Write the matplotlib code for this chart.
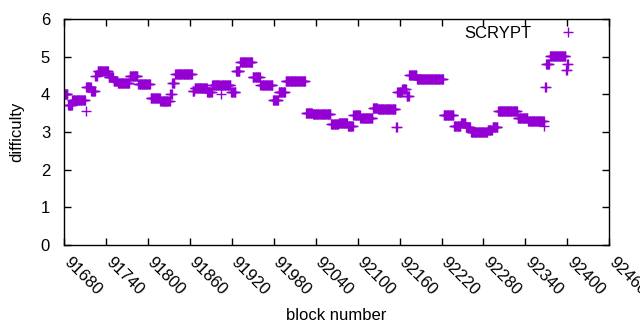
import matplotlib
matplotlib.use("Agg")
import matplotlib.pyplot as plt
import matplotlib.transforms as mtransforms
import numpy as np

plt.rcParams['font.family'] = ['Liberation Sans', 'DejaVu Sans']

# difficulty runs: first block, last block, difficulty
run_start = [91680, 91686, 91692, 91711, 91712, 91719, 91725, 91728, 91744, 91751,
             91757, 91774, 91786, 91804, 91818, 91832, 91835, 91839, 91864, 91867,
             91885, 91892, 91904, 91905, 91919, 91926, 91932, 91950, 91961, 91979,
             91987, 91997, 92026, 92036, 92062, 92073, 92086, 92094, 92104, 92122,
             92129, 92155, 92157, 92164, 92170, 92174, 92185, 92223, 92238, 92248,
             92255, 92262, 92286, 92293, 92301, 92329, 92344, 92367, 92368, 92370,
             92375, 92398, 92400]
run_end = [91685, 91691, 91710, 91711, 91718, 91724, 91727, 91743, 91750, 91756,
           91773, 91785, 91803, 91817, 91831, 91834, 91838, 91863, 91866, 91884,
           91891, 91903, 91904, 91918, 91925, 91931, 91949, 91960, 91978, 91986,
           91996, 92025, 92035, 92061, 92072, 92085, 92093, 92103, 92121, 92128,
           92154, 92156, 92163, 92169, 92173, 92184, 92222, 92237, 92247, 92254,
           92261, 92285, 92292, 92300, 92328, 92343, 92366, 92367, 92369, 92374,
           92397, 92399, 92401]
run_diff = [4.00, 3.72, 3.85, 3.56, 4.20, 4.10, 4.50, 4.62, 4.45, 4.35,
            4.30, 4.50, 4.28, 3.90, 3.82, 4.00, 4.30, 4.54, 4.08, 4.17,
            4.05, 4.25, 4.00, 4.25, 4.05, 4.63, 4.86, 4.45, 4.26, 3.86,
            4.05, 4.36, 3.50, 3.47, 3.22, 3.25, 3.15, 3.45, 3.36, 3.65,
            3.62, 3.13, 4.05, 4.13, 3.95, 4.52, 4.40, 3.45, 3.15, 3.25,
            3.12, 3.00, 3.06, 3.13, 3.57, 3.36, 3.29, 3.17, 4.20, 4.82,
            5.02, 4.65, 4.80]

blocks = np.concatenate([np.arange(s, e + 1) for s, e in zip(run_start, run_end)])
diffs = np.concatenate([np.full(e - s + 1, d) for s, e, d in zip(run_start, run_end, run_diff)])

xticks = list(range(91680, 92461, 60))
yticks = [0, 1, 2, 3, 4, 5, 6]

fig = plt.figure(figsize=(6.4, 3.3), dpi=100)
ax = fig.add_axes([0.1, 0.258, 0.852, 0.684])

ax.plot(blocks, diffs, "+", color="#9400D3", markersize=7, markeredgewidth=1.0,
        label="SCRYPT")

ax.set_xlim(91680, 92460)
ax.set_ylim(0, 6)
ax.set_xticks(xticks)
ax.set_yticks(yticks)
ax.set_xticklabels([str(t) for t in xticks], rotation=-45, ha="left", va="center",
                   rotation_mode="anchor", fontsize=12)
ax.set_yticklabels([str(t) for t in yticks], fontsize=12)
ax.tick_params(direction="in", top=True, right=True, length=5, width=1)
ax.tick_params(axis="x", pad=11)
ax.tick_params(axis="y", pad=10)
# nudge the slanted labels a bit to the right, like gnuplot
shift = mtransforms.ScaledTranslation(2 / 100, 0, fig.dpi_scale_trans)
for lbl in ax.get_xticklabels():
    lbl.set_transform(lbl.get_transform() + shift)
for sp in ax.spines.values():
    sp.set_linewidth(1)

ax.set_xlabel("block number", fontsize=12, labelpad=7)
ax.set_ylabel("difficulty", fontsize=12, labelpad=12)

leg = ax.legend(loc="upper right", bbox_to_anchor=(0.9725, 1.0), frameon=False,
                markerfirst=False, fontsize=12, handlelength=2.4, borderpad=0.2,
                borderaxespad=0.2, handletextpad=1.0)

fig.savefig("out.png", dpi=100)
